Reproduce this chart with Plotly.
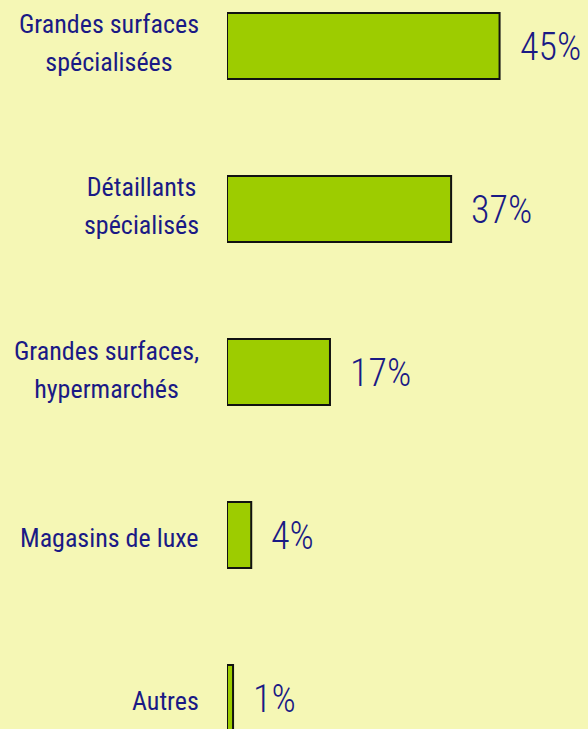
import plotly.graph_objects as go

categories = ["Grandes surfaces<br>spécialisées", "Détaillants<br>spécialisés",
              "Grandes surfaces,<br>hypermarchés", "Magasins de luxe", "Autres"]
values = [45, 37, 17, 4, 1]
value_labels = ["45%", "37%", "17%", "4%", "1%"]

BG = "#F5F7B5"
NAVY = "#1A1A85"
FONT = "Roboto Condensed, DejaVu Sans Condensed, sans-serif"

idx = list(range(len(categories)))

fig = go.Figure(go.Bar(
    x=values, y=idx, orientation="h", width=0.405,
    marker=dict(color="#9DCC00", line=dict(color="#111111", width=2)),
    hoverinfo="skip",
))

annotations = []
for i, (c, v, t) in enumerate(zip(categories, values, value_labels)):
    two = "<br>" in c
    if two:
        text = "<br>".join(f'<span style="font-size:26px">{p}</span>' for p in c.split("<br>"))
        size, ys = 29, 2.5
    else:
        text, size, ys = c, 26, -3
    annotations.append(dict(x=0, y=i, xref="x", yref="y", text=text, showarrow=False,
                            xanchor="right", yanchor="middle", align="center",
                            xshift=-26, yshift=ys,
                            font=dict(family=FONT, size=size, color=NAVY)))
    annotations.append(dict(x=v, y=i, xref="x", yref="y", text=t, showarrow=False,
                            xanchor="left", yanchor="middle", xshift=18, yshift=-1,
                            font=dict(family=FONT, size=38, color=NAVY, weight=300)))

fig.update_layout(
    width=588, height=729,
    margin=dict(l=227, r=0, t=0, b=0),
    paper_bgcolor=BG, plot_bgcolor=BG,
    showlegend=False,
    xaxis=dict(range=[0, 59.6], visible=False, fixedrange=True),
    yaxis=dict(range=[4.19, -0.282], visible=False, fixedrange=True),
    annotations=annotations,
)

fig.write_html("out.html", config={"displayModeBar": False},
               post_script="document.body.style.margin='0';document.body.style.overflow='hidden';")
